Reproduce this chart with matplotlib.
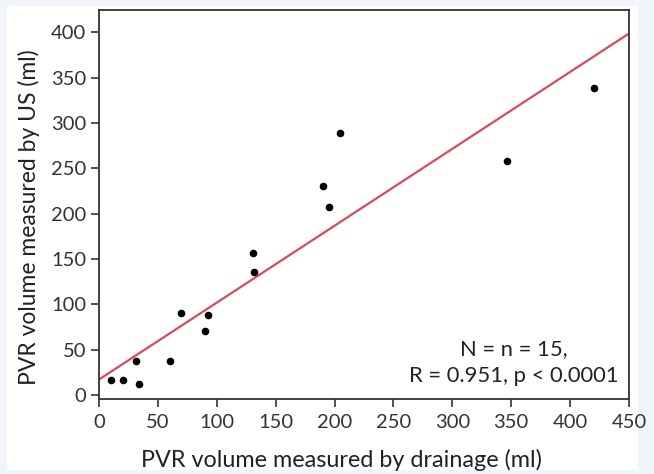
import numpy as np
import matplotlib.pyplot as plt
from matplotlib.patches import Rectangle

# drainage volume (ml) vs ultrasound volume (ml)
drainage = [10, 20, 34, 31, 60, 70, 90, 92.5, 131, 132, 190, 195, 205, 346, 420]
us_volume = [16.5, 16.5, 12, 37.5, 37.5, 90, 71, 88, 156, 136, 230, 207, 288.5, 258, 338]

# regression line
fit_intercept = 17
fit_slope = 0.848

xticks = np.arange(0, 451, 50)
yticks = np.arange(0, 401, 50)

plt.rcParams['font.family'] = ['Lato', 'DejaVu Sans']

fig = plt.figure(figsize=(6.54, 4.74), dpi=100, facecolor='#f1f5fa')
# white panel behind the chart
fig.patches.append(Rectangle((0.011, 0.008), 0.965, 0.98, transform=fig.transFigure,
                             facecolor='white', edgecolor='none', zorder=-10))
ax = fig.add_axes([0.1514, 0.1582, 0.8104, 0.8207])

xl = np.array([0, 450])
ax.plot(xl, fit_intercept + fit_slope * xl, color='#d94a5c', lw=1.6, zorder=2)
ax.scatter(drainage, us_volume, s=20, color='black', zorder=3)

ax.set_xlim(0, 450)
ax.set_ylim(-4.5, 424.5)
ax.set_xticks(xticks)
ax.set_yticks(yticks)
ax.tick_params(direction='out', length=6, width=1.2, color='#333333',
               labelsize=14.5, labelcolor='#333333', pad=3)
ax.tick_params(axis='x', pad=5)
for s in ax.spines.values():
    s.set_linewidth(1.3)
    s.set_color('#333333')

ax.set_xlabel('PVR volume measured by drainage (ml)', fontsize=16.8, color='#222222')
ax.set_ylabel('PVR volume measured by US (ml)', fontsize=16.5, color='#222222')
ax.xaxis.set_label_coords(0.458, -0.128)
ax.yaxis.set_label_coords(-0.112, 0.468)

ax.text(0.783, 0.093, 'N = n = 15,\nR = 0.951, p < 0.0001', transform=ax.transAxes,
        ha='center', va='center', fontsize=15.8, color='#222222', linespacing=1.45)

fig.savefig('out.png', dpi=100, facecolor=fig.get_facecolor())
